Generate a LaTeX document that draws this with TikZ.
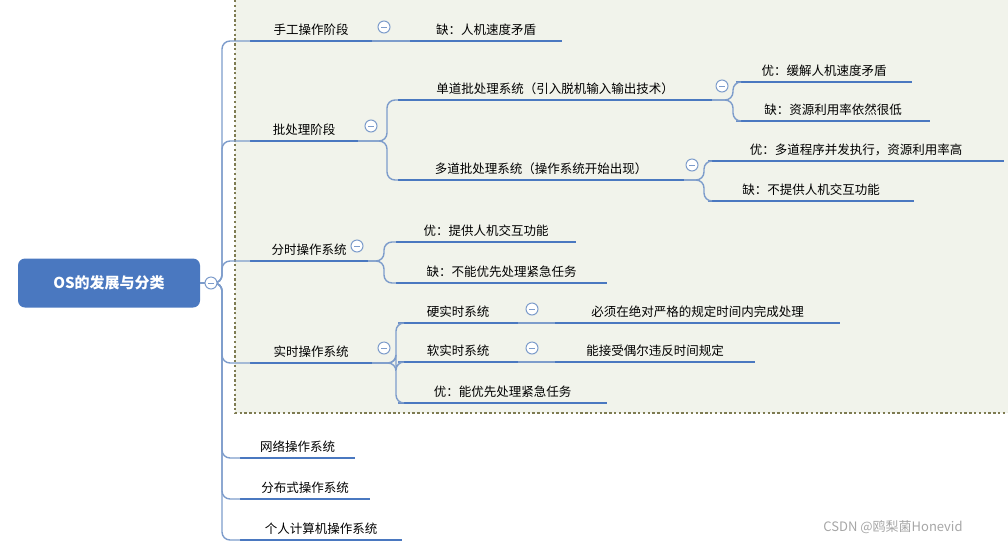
\documentclass[tikz,border=0pt]{standalone}
\usepackage{fontspec}
\setmainfont{Noto Sans CJK SC}
\definecolor{ulblue}{HTML}{4A78C0}
\definecolor{lnblue}{HTML}{7D9CCB}
\definecolor{bgpane}{HTML}{F1F3EB}
\definecolor{olive}{HTML}{7E7B52}
\tikzset{
  topic/.style={anchor=south, inner sep=1pt, font=\fontsize{12.5}{14}\selectfont},
  uline/.style={ulblue, line width=2.8pt},
  branch/.style={lnblue, line width=1.4pt, rounded corners=8pt},
  fold/.style={circle, draw=lnblue, fill=white, line width=1pt, minimum size=12pt, inner sep=0pt,
    path picture={\draw[lnblue, line width=1pt] ([xshift=-3pt]path picture bounding box.center) -- ([xshift=3pt]path picture bounding box.center);}},
}
% name, x left, x right, y of underline, text
\newcommand{\topic}[5]{%
  \coordinate (#1-w) at (#2,#4);
  \coordinate (#1-e) at (#3,#4);
  \node[topic] (#1) at ($(#1-w)!0.5!(#1-e)+(0,-4)$) {#5};
  \draw[uline] (#1-w) -- (#1-e);
}
\usetikzlibrary{calc}
\begin{document}
\begin{tikzpicture}[x=1pt,y=-1pt]
\useasboundingbox (0,0) rectangle (1008,547);
\fill[bgpane] (235,0) rectangle (1008,413);
\draw[olive, line width=2.4pt, dash pattern=on 2.4pt off 2.4pt] (235,0) -- (235,413) -- (1008,413);
% root
\node[fill=ulblue, rounded corners=7pt, minimum width=182pt, minimum height=49pt, text=white,
  font=\fontsize{15}{17}\selectfont\bfseries] (root) at (109,283) {OS的发展与分类};
% level 1
\topic{hand}{250}{372}{41}{手工操作阶段}
\topic{batch}{250}{358}{141}{批处理阶段}
\topic{share}{250}{368}{261}{分时操作系统}
\topic{real}{250}{372}{363}{实时操作系统}
\topic{net}{240}{355}{458}{网络操作系统}
\topic{dist}{240}{370}{499}{分布式操作系统}
\topic{pc}{240}{402}{540}{个人计算机操作系统}
\foreach \t in {hand,batch,share,real,net,dist,pc}
  \draw[branch] (root.east) -- (222,283) |- (\t-w);
% hand
\topic{handc}{410}{562}{41}{缺：人机速度矛盾}
\draw[branch] (hand-e) -- (handc-w);
% batch
\topic{single}{398}{712}{100}{单道批处理系统（引入脱机输入输出技术）}
\topic{multi}{398}{684}{180}{多道批处理系统（操作系统开始出现）}
\foreach \t in {single,multi}
  \draw[branch] (batch-e) -- (387,141) |- (\t-w);
\topic{singlep}{736}{912}{82}{优：缓解人机速度矛盾}
\topic{singlen}{736}{930}{121}{缺：资源利用率依然很低}
\topic{multip}{708}{1004}{161}{优：多道程序并发执行，资源利用率高}
\topic{multin}{708}{914}{201}{缺：不提供人机交互功能}
\foreach \t in {singlep,singlen}
  \draw[branch] (single-e) -- (733,100) |- (\t-w);
\foreach \t in {multip,multin}
  \draw[branch] (multi-e) -- (704,180) |- (\t-w);
% share
\topic{sharep}{396}{576}{242}{优：提供人机交互功能}
\topic{sharen}{396}{607}{283}{缺：不能优先处理紧急任务}
\foreach \t in {sharep,sharen}
  \draw[branch] (share-e) -- (384,261) |- (\t-w);
% real
\topic{hard}{398}{518}{323}{硬实时系统}
\topic{soft}{398}{518}{362}{软实时系统}
\topic{realp}{398}{607}{403}{优：能优先处理紧急任务}
\foreach \t in {hard,soft,realp}
  \draw[branch] (real-e) -- (396,363) |- (\t-w);
\topic{hardc}{555}{840}{323}{必须在绝对严格的规定时间内完成处理}
\topic{softc}{555}{755}{362}{能接受偶尔违反时间规定}
\draw[branch] (hard-e) -- (hardc-w);
\draw[branch] (soft-e) -- (softc-w);
% fold marks
\node[fold] (f0) at (211,283) {};
\node[fold] (f1) at (384,27) {};
\node[fold] (f2) at (371,126) {};
\node[fold] (f3) at (722,86) {};
\node[fold] (f4) at (692,165) {};
\node[fold] (f5) at (357,246) {};
\node[fold] (f6) at (384,348) {};
\node[fold] (f7) at (532,309) {};
\node[fold] (f8) at (532,348) {};
\node[text=gray!70, font=\fontsize{13}{15}\selectfont] (mark) at (893,527) {CSDN @鸥梨菌Honevid};
\end{tikzpicture}
\end{document}
